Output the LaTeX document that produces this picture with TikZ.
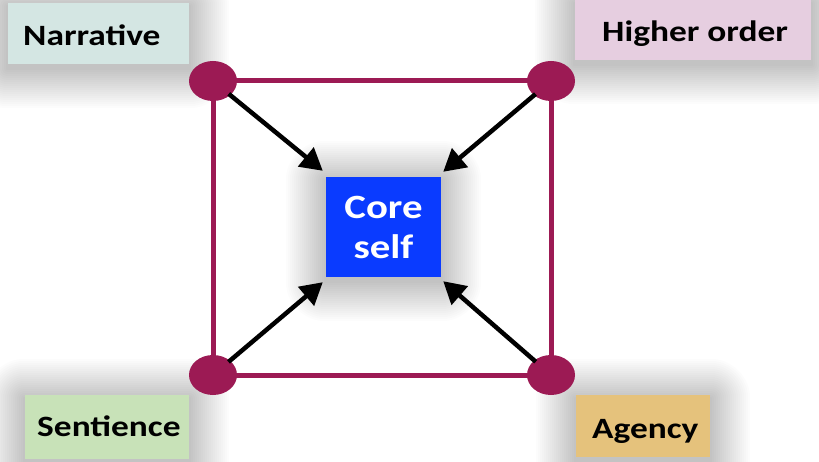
\documentclass[tikz,border=0pt]{standalone}
\usepackage{fontspec}
\newfontfamily\labfont[FakeStretch=1.2]{Carlito}
\usetikzlibrary{arrows.meta,shapes.geometric,calc,backgrounds}
\definecolor{framec}{RGB}{156,26,84}
\definecolor{narrc}{RGB}{212,230,227}
\definecolor{highc}{RGB}{230,206,224}
\definecolor{sentc}{RGB}{200,226,184}
\definecolor{agenc}{RGB}{229,194,124}
\definecolor{corec}{RGB}{10,59,255}
\begin{document}
\begin{tikzpicture}[x=1pt,y=-1pt,
  labtext/.style={inner sep=0pt, anchor=base west, font=\labfont\bfseries\fontsize{29.5}{35}\selectfont, text=black},
  labbox/.style={inner sep=0pt, draw=none},
  shadowstep/.style={fill=black, opacity=0.013},
  dot/.style={ellipse, fill=framec, draw=none, minimum width=48pt, minimum height=40pt, inner sep=0pt},
  edgeline/.style={draw=framec, line width=5pt},
  arr/.style={draw=black, line width=4.5pt, -{Triangle[length=22pt,width=24pt]}, shorten <=-2pt}]
\useasboundingbox (0,0) rectangle (819,462);

% boxes
\node[labbox, fill=narrc, minimum width=181pt, minimum height=61pt] (narrbox) at (98.5,33.5) {};
\node[labbox, fill=highc, minimum width=236pt, minimum height=60pt] (highbox) at (693,30) {};
\node[labbox, fill=sentc, minimum width=164pt, minimum height=64pt] (sentbox) at (107,427) {};
\node[labbox, fill=agenc, minimum width=134pt, minimum height=62pt] (agenbox) at (643,426) {};

\node[labtext] (narrtext) at (23,46) {Narrative};
\node[labtext] (hightext) at (602,42) {Higher order};
\node[labtext] (senttext) at (37,436) {Sentience};
\node[labtext] (agentext) at (592,438) {Agency};

% core
\node[labbox, fill=corec, minimum width=115pt, minimum height=100pt, text=white, align=center,
  font=\labfont\bfseries\fontsize{34}{40}\selectfont] (core) at (383.5,227) {Core\\self};

\begin{scope}[on background layer]
\fill[white] (0,0) rectangle (819,462);
\foreach \b in {narrbox,highbox,sentbox,agenbox,core}{
  \foreach \r in {2,4,...,40}{
    \fill[shadowstep, rounded corners=\r pt] ($(\b.north west)+(-\r,-\r+4)$) rectangle ($(\b.south east)+(\r,\r+4)$);
  }
}
\end{scope}

% frame
\coordinate (tlc) at (213,81);
\coordinate (trc) at (551,81);
\coordinate (blc) at (213,375);
\coordinate (brc) at (551,375);
\draw[edgeline] (tlc) -- (trc) -- (brc) -- (blc) -- cycle;
\node[dot] (tl) at (tlc) {};
\node[dot] (tr) at (trc) {};
\node[dot] (bl) at (blc) {};
\node[dot] (br) at (brc) {};

% arrows
\draw[arr] (tl) -- ($(core.north west)+(-3,-6)$);
\draw[arr] (tr) -- ($(core.north east)+(2,-5)$);
\draw[arr] (bl) -- ($(core.south west)+(-3,5)$);
\draw[arr] (br) -- ($(core.south east)+(2,4)$);
\end{tikzpicture}
\end{document}
